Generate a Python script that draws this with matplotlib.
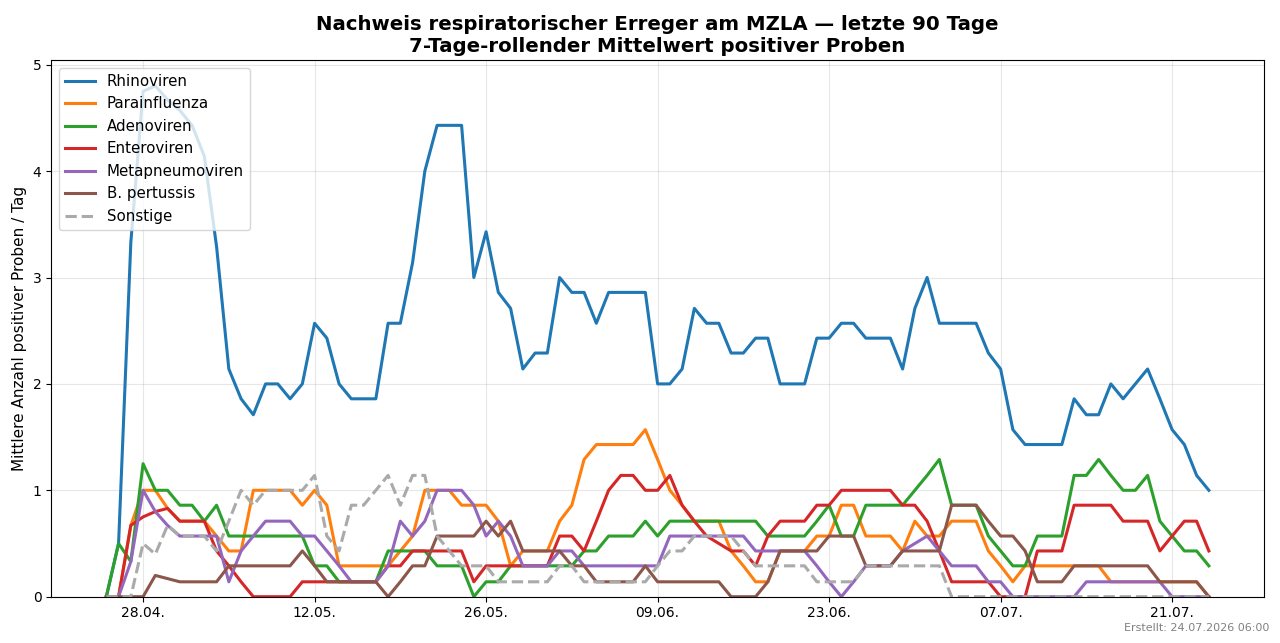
import matplotlib
matplotlib.use("Agg")
import matplotlib.pyplot as plt
import matplotlib.dates as mdates
import pandas as pd

# daily dates, 25.04.2026 - 24.07.2026
dates = pd.date_range("2026-04-25", "2026-07-24", freq="D")
tick_dates = ["2026-04-28", "2026-05-12", "2026-05-26", "2026-06-09",
              "2026-06-23", "2026-07-07", "2026-07-21"]

rhinoviren = [
    0, 0.5, 3.33, 4.75, 4.8, 4.67, 4.57, 4.43, 4.14, 3.29,
    2.14, 1.86, 1.71, 2.0, 2.0, 1.86, 2.0, 2.57, 2.43, 2.0,
    1.86, 1.86, 1.86, 2.57, 2.57, 3.14, 4.0, 4.43, 4.43, 4.43,
    3.0, 3.43, 2.86, 2.71, 2.14, 2.29, 2.29, 3.0, 2.86, 2.86,
    2.57, 2.86, 2.86, 2.86, 2.86, 2.0, 2.0, 2.14, 2.71, 2.57,
    2.57, 2.29, 2.29, 2.43, 2.43, 2.0, 2.0, 2.0, 2.43, 2.43,
    2.57, 2.57, 2.43, 2.43, 2.43, 2.14, 2.71, 3.0, 2.57, 2.57,
    2.57, 2.57, 2.29, 2.14, 1.57, 1.43, 1.43, 1.43, 1.43, 1.86,
    1.71, 1.71, 2.0, 1.86, 2.0, 2.14, 1.86, 1.57, 1.43, 1.14,
    1.0,
]
parainfluenza = [
    0, 0, 0.67, 1.0, 1.0, 0.83, 0.71, 0.71, 0.71, 0.57,
    0.43, 0.43, 1.0, 1.0, 1.0, 1.0, 0.86, 1.0, 0.86, 0.29,
    0.29, 0.29, 0.29, 0.29, 0.43, 0.57, 1.0, 1.0, 1.0, 0.86,
    0.86, 0.86, 0.71, 0.29, 0.43, 0.43, 0.43, 0.71, 0.86, 1.29,
    1.43, 1.43, 1.43, 1.43, 1.57, 1.29, 1.0, 0.86, 0.71, 0.71,
    0.71, 0.43, 0.29, 0.14, 0.14, 0.43, 0.43, 0.43, 0.57, 0.57,
    0.86, 0.86, 0.57, 0.57, 0.57, 0.43, 0.71, 0.57, 0.57, 0.71,
    0.71, 0.71, 0.43, 0.29, 0.14, 0.29, 0.29, 0.29, 0.29, 0.29,
    0.29, 0.29, 0.14, 0.14, 0.14, 0.14, 0.14, 0.14, 0.14, 0.14,
    0,
]
adenoviren = [
    0, 0.5, 0.33, 1.25, 1.0, 1.0, 0.86, 0.86, 0.71, 0.86,
    0.57, 0.57, 0.57, 0.57, 0.57, 0.57, 0.57, 0.29, 0.29, 0.14,
    0.14, 0.14, 0.14, 0.43, 0.43, 0.43, 0.43, 0.29, 0.29, 0.29,
    0, 0.14, 0.14, 0.29, 0.29, 0.29, 0.29, 0.29, 0.29, 0.43,
    0.43, 0.57, 0.57, 0.57, 0.71, 0.57, 0.71, 0.71, 0.71, 0.71,
    0.71, 0.71, 0.71, 0.71, 0.57, 0.57, 0.57, 0.57, 0.71, 0.86,
    0.57, 0.57, 0.86, 0.86, 0.86, 0.86, 1.0, 1.14, 1.29, 0.86,
    0.86, 0.86, 0.57, 0.43, 0.29, 0.29, 0.57, 0.57, 0.57, 1.14,
    1.14, 1.29, 1.14, 1.0, 1.0, 1.14, 0.71, 0.57, 0.43, 0.43,
    0.29,
]
enteroviren = [
    0, 0, 0.67, 0.75, 0.8, 0.83, 0.71, 0.71, 0.71, 0.43,
    0.29, 0.14, 0, 0, 0, 0, 0.14, 0.14, 0.14, 0.14,
    0.14, 0.14, 0.14, 0.29, 0.29, 0.43, 0.43, 0.43, 0.43, 0.43,
    0.14, 0.29, 0.29, 0.29, 0.29, 0.29, 0.29, 0.57, 0.57, 0.43,
    0.71, 1.0, 1.14, 1.14, 1.0, 1.0, 1.14, 0.86, 0.71, 0.57,
    0.5, 0.43, 0.43, 0.29, 0.57, 0.71, 0.71, 0.71, 0.86, 0.86,
    1.0, 1.0, 1.0, 1.0, 1.0, 0.86, 0.86, 0.71, 0.43, 0.14,
    0.14, 0.14, 0.14, 0, 0, 0, 0.43, 0.43, 0.43, 0.86,
    0.86, 0.86, 0.86, 0.71, 0.71, 0.71, 0.43, 0.57, 0.71, 0.71,
    0.43,
]
metapneumoviren = [
    0, 0, 0.33, 1.0, 0.8, 0.67, 0.57, 0.57, 0.57, 0.57,
    0.14, 0.43, 0.57, 0.71, 0.71, 0.71, 0.57, 0.57, 0.43, 0.29,
    0.14, 0.14, 0.14, 0.29, 0.71, 0.57, 0.71, 1.0, 1.0, 1.0,
    0.86, 0.57, 0.71, 0.57, 0.29, 0.29, 0.29, 0.43, 0.43, 0.29,
    0.29, 0.29, 0.29, 0.29, 0.29, 0.29, 0.57, 0.57, 0.57, 0.57,
    0.57, 0.57, 0.57, 0.43, 0.43, 0.43, 0.43, 0.43, 0.29, 0.14,
    0, 0.14, 0.29, 0.29, 0.29, 0.43, 0.5, 0.57, 0.43, 0.29,
    0.29, 0.29, 0.14, 0.14, 0, 0, 0, 0, 0, 0,
    0.14, 0.14, 0.14, 0.14, 0.14, 0.14, 0.14, 0, 0, 0,
    0,
]
pertussis = [
    0, 0, 0, 0, 0.2, 0.17, 0.14, 0.14, 0.14, 0.14,
    0.29, 0.29, 0.29, 0.29, 0.29, 0.29, 0.43, 0.29, 0.14, 0.14,
    0.14, 0.14, 0.14, 0, 0.14, 0.29, 0.29, 0.57, 0.57, 0.57,
    0.57, 0.71, 0.57, 0.71, 0.43, 0.43, 0.43, 0.43, 0.29, 0.29,
    0.14, 0.14, 0.14, 0.14, 0.29, 0.14, 0.14, 0.14, 0.14, 0.14,
    0.14, 0, 0, 0, 0.14, 0.43, 0.43, 0.43, 0.43, 0.57,
    0.57, 0.57, 0.29, 0.29, 0.29, 0.43, 0.43, 0.43, 0.43, 0.86,
    0.86, 0.86, 0.71, 0.57, 0.57, 0.43, 0.14, 0.14, 0.14, 0.29,
    0.29, 0.29, 0.29, 0.29, 0.29, 0.29, 0.14, 0.14, 0.14, 0.14,
    0,
]
sonstige = [
    0, 0, 0, 0.5, 0.4, 0.67, 0.57, 0.57, 0.57, 0.43,
    0.71, 1.0, 0.86, 1.0, 1.0, 1.0, 1.0, 1.14, 0.57, 0.43,
    0.86, 0.86, 1.0, 1.14, 0.86, 1.14, 1.14, 0.57, 0.43, 0.29,
    0.29, 0.29, 0.14, 0.14, 0.14, 0.14, 0.14, 0.29, 0.29, 0.14,
    0.14, 0.14, 0.14, 0.14, 0.14, 0.29, 0.43, 0.43, 0.57, 0.57,
    0.57, 0.57, 0.43, 0.29, 0.29, 0.29, 0.29, 0.29, 0.14, 0.14,
    0.14, 0.14, 0.29, 0.29, 0.29, 0.29, 0.29, 0.29, 0.29, 0,
    0, 0, 0, 0, 0, 0, 0, 0, 0, 0,
    0, 0, 0, 0, 0, 0, 0, 0, 0, 0,
    0,
]

series = [
    ("Rhinoviren", rhinoviren, "#1f77b4", "-"),
    ("Parainfluenza", parainfluenza, "#ff7f0e", "-"),
    ("Adenoviren", adenoviren, "#2ca02c", "-"),
    ("Enteroviren", enteroviren, "#d62728", "-"),
    ("Metapneumoviren", metapneumoviren, "#9467bd", "-"),
    ("B. pertussis", pertussis, "#8c564b", "-"),
    ("Sonstige", sonstige, "#aaaaaa", "--"),
]

fig, ax = plt.subplots(figsize=(12.8, 6.43), dpi=100)
fig.subplots_adjust(left=0.04, right=0.9875, top=0.906, bottom=0.072)

for name, vals, color, ls in series:
    ax.plot(dates, vals, color=color, linestyle=ls, linewidth=2.2, label=name)

ax.set_title("Nachweis respiratorischer Erreger am MZLA — letzte 90 Tage\n"
             "7-Tage-rollender Mittelwert positiver Proben",
             fontsize=14.2, fontweight="bold")
ax.set_ylabel("Mittlere Anzahl positiver Proben / Tag", fontsize=11)
ax.set_ylim(0, max(rhinoviren) * 1.05)
ax.set_xticks(pd.to_datetime(tick_dates))
ax.xaxis.set_major_formatter(mdates.DateFormatter("%d.%m."))
ax.tick_params(labelsize=10)
ax.grid(True, alpha=0.3)
ax.legend(loc="upper left", fontsize=10.8)

fig.text(0.992, 0.018, "Erstellt: 24.07.2026 06:00", ha="right",
         fontsize=8, color="gray")

fig.savefig("out.png")
